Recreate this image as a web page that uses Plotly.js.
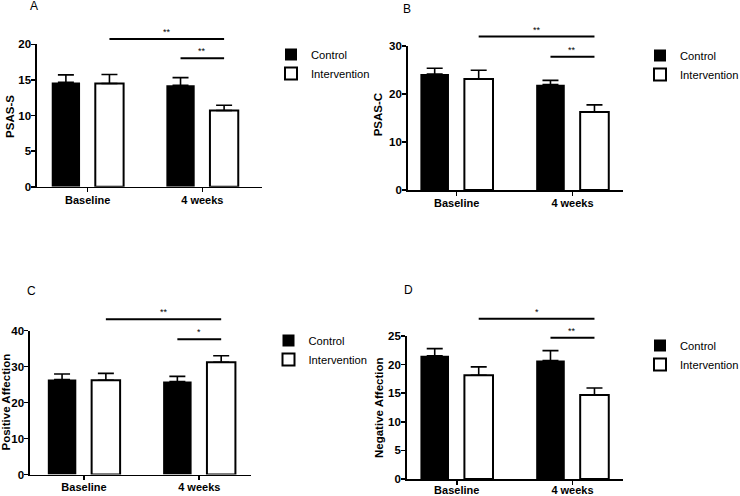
<!DOCTYPE html>
<html><head><meta charset="utf-8">
<script src="https://cdn.plot.ly/plotly-3.0.1.min.js"></script>
<style>html,body{margin:0;padding:0;background:#fff}#chart{width:740px;height:496px}</style>
</head><body><div id="chart"></div>
<script>
// ---------- data ----------
const categories = ['Baseline', '4 weeks'];
const seriesNames = ['Control', 'Intervention'];
const panelLetters = ['A', 'B', 'C', 'D'];
const yTitles = ['PSAS-S', 'PSAS-C', 'Positive Affection', 'Negative Affection'];
const yMax = [20, 30, 40, 25];
const yDtick = [5, 10, 10, 5];

const psasSControl = [14.65, 14.25];
const psasSControlErr = [1.05, 1.07];
const psasSIntervention = [14.5, 10.7];
const psasSInterventionErr = [1.25, 0.75];

const psasCControl = [24.1, 21.9];
const psasCControlErr = [1.2, 0.9];
const psasCIntervention = [23.1, 16.2];
const psasCInterventionErr = [1.8, 1.5];

const positiveControl = [26.4, 25.8];
const positiveControlErr = [1.5, 1.45];
const positiveIntervention = [26.2, 31.2];
const positiveInterventionErr = [1.9, 1.8];

const negativeControl = [21.55, 20.7];
const negativeControlErr = [1.25, 1.75];
const negativeIntervention = [18.15, 14.7];
const negativeInterventionErr = [1.45, 1.2];

// significance brackets: from bar [category, series] to bar [category, series], height, label
const sigFrom = [[[0, 1], [1, 0]], [[0, 1], [1, 0]], [[0, 1], [1, 0]], [[0, 1], [1, 0]]];
const sigTo = [[[1, 1], [1, 1]], [[1, 1], [1, 1]], [[1, 1], [1, 1]], [[1, 1], [1, 1]]];
const sigHeight = [[20.75, 18.05], [31.9, 27.7], [43.1, 37.6], [28.0, 24.7]];
const sigLabel = [['**', '**'], ['**', '**'], ['**', '*'], ['*', '**']];

// ---------- layout helpers ----------
const panelValues = [
  [psasSControl, psasSIntervention], [psasCControl, psasCIntervention],
  [positiveControl, positiveIntervention], [negativeControl, negativeIntervention]
];
const panelErrors = [
  [psasSControlErr, psasSInterventionErr], [psasCControlErr, psasCInterventionErr],
  [positiveControlErr, positiveInterventionErr], [negativeControlErr, negativeInterventionErr]
];

const W = 740, H = 496;
// pixel boxes of each plot area: [left, right, top(ymax), bottom(0)]
const boxes = [[37, 261.7, 44.3, 186.7], [407.7, 623.3, 45.7, 190], [30, 250.7, 330.5, 474.5], [406.7, 623.3, 336, 479]];
const xRanges = [[-0.442, 1.518], [-0.423, 1.439], [-0.468, 1.446], [-0.432, 1.439]];
const xLabelStandoff = [-2, -2, -2, -4];
const legendPos = [[271, 40], [640, 41], [268.5, 326], [640, 331]];
const letterPos = [[34, 5.5], [407, 9], [31, 291], [408, 290]];
const yTitlePos = [[9.2, 116.7], [378.3, 115], [5.8, 401.7], [378.3, 407.7]];

const bargap = 0.24, bargroupgap = 0.35;
function barCenter(cat, s) { return cat + (s === 0 ? -1 : 1) * (1 - bargap) / 4; }

const FONT = 'Liberation Sans, Arial, sans-serif';
const colors = ['#000000', '#ffffff'];

const traces = [];
const layout = {
  width: W, height: H,
  margin: {l: 0, r: 0, t: 0, b: 0, autoexpand: false},
  paper_bgcolor: '#fff', plot_bgcolor: '#fff',
  barmode: 'group', bargap: bargap, bargroupgap: bargroupgap,
  font: {family: FONT, color: '#000'},
  shapes: [], annotations: []
};

for (let p = 0; p < 4; p++) {
  const sfx = p === 0 ? '' : String(p + 1);
  const xa = 'x' + sfx, ya = 'y' + sfx;
  const lg = p === 0 ? 'legend' : 'legend' + (p + 1);
  const b = boxes[p];
  for (let s = 0; s < 2; s++) {
    traces.push({
      type: 'bar', name: seriesNames[s], x: categories, y: panelValues[p][s],
      xaxis: xa, yaxis: ya, legend: lg,
      marker: {color: colors[s], line: {color: '#000', width: s === 0 ? 0 : 2}},
      error_y: {type: 'data', array: panelErrors[p][s], arrayminus: [0, 0], symmetric: false,
                color: '#000', thickness: 1.6, width: 8},
      hoverinfo: 'skip'
    });
  }
  layout['xaxis' + sfx] = {
    domain: [b[0] / W, b[1] / W], anchor: ya, type: 'category',
    range: xRanges[p], showline: true, linecolor: '#000', linewidth: 1.6,
    ticks: 'outside', ticklen: 4, tickwidth: 1.6, tickcolor: '#000', ticklabelstandoff: xLabelStandoff[p],
    tickfont: {family: FONT, size: 11, weight: 'bold', color: '#000'},
    showgrid: false, zeroline: false, fixedrange: true, automargin: false
  };
  layout['yaxis' + sfx] = {
    domain: [1 - b[3] / H, 1 - b[2] / H], anchor: xa,
    range: [0, yMax[p]], dtick: yDtick[p], tick0: 0,
    showline: true, linecolor: '#000', linewidth: 1.6,
    ticks: 'outside', ticklen: 4, tickwidth: 1.6, tickcolor: '#000', ticklabelstandoff: -2,
    tickfont: {family: FONT, size: 11.5, weight: 'bold', color: '#000'},
    showgrid: false, zeroline: false, fixedrange: true, automargin: false
  };
  layout[lg] = {
    x: legendPos[p][0] / W, y: 1 - legendPos[p][1] / H, xanchor: 'left', yanchor: 'top',
    font: {family: FONT, size: 11.2, color: '#000'}, bgcolor: 'rgba(0,0,0,0)',
    traceorder: 'normal', itemclick: false, itemdoubleclick: false
  };
  for (let k = 0; k < 2; k++) {
    const x0 = barCenter(sigFrom[p][k][0], sigFrom[p][k][1]);
    const x1 = barCenter(sigTo[p][k][0], sigTo[p][k][1]);
    const yd = sigHeight[p][k] / yMax[p];
    layout.shapes.push({type: 'line', xref: xa, yref: ya + ' domain', x0: x0, x1: x1, y0: yd, y1: yd,
                        line: {color: '#000', width: 2}});
    layout.annotations.push({xref: xa, yref: ya + ' domain', x: (x0 + x1) / 2, y: yd, text: sigLabel[p][k],
                             showarrow: false, yanchor: 'bottom', yshift: 0,
                             font: {family: FONT, size: 9, color: '#000'}});
  }
  // y-axis title
  layout.annotations.push({xref: 'paper', yref: 'paper', x: yTitlePos[p][0] / W, y: 1 - yTitlePos[p][1] / H,
                           text: yTitles[p], textangle: -90, showarrow: false, xanchor: 'center', yanchor: 'middle',
                           font: {family: FONT, size: 11.5, weight: 'bold', color: '#000'}});
  // panel letter
  layout.annotations.push({xref: 'paper', yref: 'paper', x: letterPos[p][0] / W, y: 1 - letterPos[p][1] / H,
                           text: panelLetters[p], showarrow: false, xanchor: 'center', yanchor: 'middle',
                           font: {family: FONT, size: 12, color: '#000'}});
}

Plotly.newPlot('chart', traces, layout, {displayModeBar: false, staticPlot: true});
</script>
</body></html>
